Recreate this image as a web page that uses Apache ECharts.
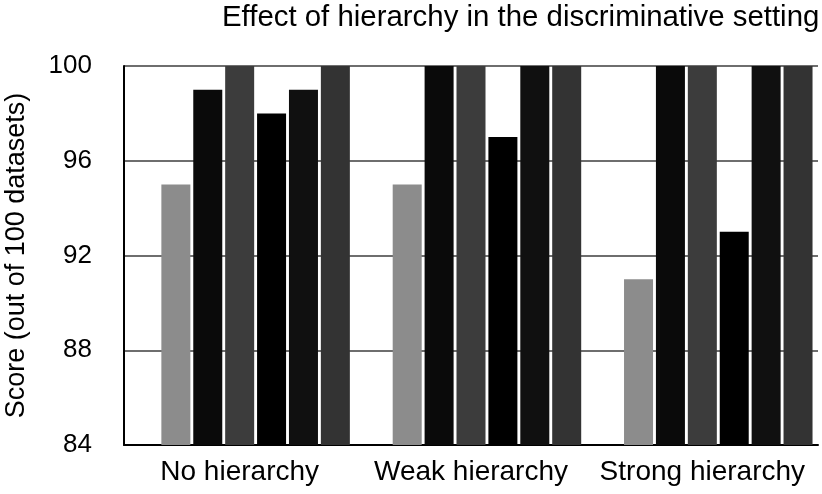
<!DOCTYPE html>
<html lang="en">
<head>
  <meta charset="UTF-8">
  <title>Effect of hierarchy</title>
  <style>
    html, body { margin: 0; padding: 0; background: #fff; }
  </style>
</head>
<body>
  <div id="chart" style="width: 822px; height: 494px;"></div>

<script src="https://cdn.jsdelivr.net/npm/echarts@6/dist/echarts.min.js"></script>
<script>
  const categories = ['No hierarchy', 'Weak hierarchy', 'Strong hierarchy'];
  const methodA = [95, 95, 91];
  const methodB = [99, 100, 100];
  const methodC = [100, 100, 100];
  const methodD = [98, 97, 93];
  const methodE = [99, 100, 100];
  const methodF = [100, 100, 100];
  const yTicks = [84, 88, 92, 96, 100];

  const barColors = ['#8c8c8c', '#0a0a0a', '#3c3c3c', '#000000', '#101010', '#333333'];
  const seriesData = [methodA, methodB, methodC, methodD, methodE, methodF];

  const font = '"Liberation Sans", Arial, Helvetica, sans-serif';
  const chart = echarts.init(document.getElementById('chart'));

  // first slot is left empty so the groups sit right of the category centre
  const series = [{
    type: 'bar',
    name: 'spacer',
    data: [],
    barWidth: 29,
    barGap: '10%'
  }];
  seriesData.forEach(function (d, i) {
    series.push({
      type: 'bar',
      name: 's' + i,
      data: d,
      barWidth: 29,
      barGap: '10%',
      itemStyle: { color: barColors[i] },
      z: 3
    });
  });

  chart.setOption({
    animation: false,
    title: {
      text: 'Effect of hierarchy in the discriminative setting',
      left: 222,
      top: 3,
      padding: 0,
      textStyle: { fontFamily: font, fontWeight: 'normal', fontSize: 29.4, color: '#000' }
    },
    grid: { left: 124, right: 4, top: 66, bottom: 49, outerBoundsMode: 'none' },
    xAxis: {
      type: 'category',
      data: categories,
      axisLine: { lineStyle: { color: '#000', width: 2 } },
      axisTick: { show: false },
      axisLabel: { interval: 0, fontFamily: font, fontSize: 28, color: '#000', margin: 13 }
    },
    yAxis: {
      type: 'value',
      min: yTicks[0],
      max: yTicks[yTicks.length - 1],
      interval: 4,
      name: 'Score (out of 100 datasets)',
      nameLocation: 'middle',
      nameGap: 94,
      nameTextStyle: { fontFamily: font, fontSize: 27, color: '#000' },
      axisLine: { show: true, lineStyle: { color: '#000', width: 2 } },
      axisTick: { show: false },
      axisLabel: { fontFamily: font, fontSize: 26, color: '#000', margin: 32 },
      splitLine: { lineStyle: { color: '#6e6e6e', width: 2 } }
    },
    series: series
  });
</script>
</body>
</html>
